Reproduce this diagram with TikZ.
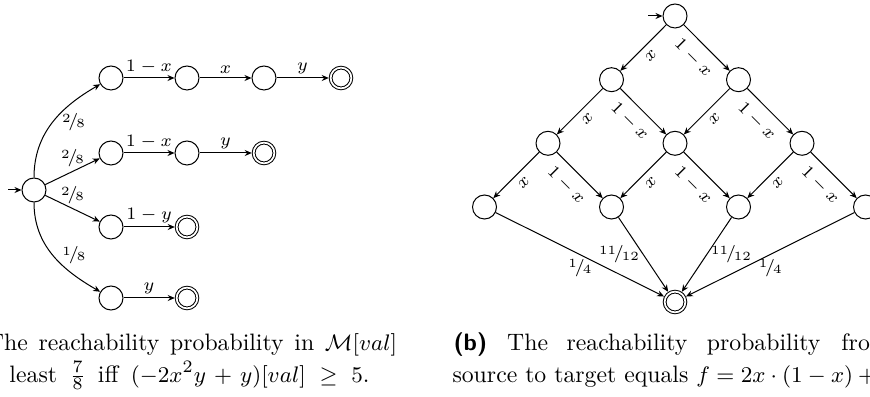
\documentclass[tikz,border=0pt]{standalone}
\usetikzlibrary{arrows.meta}
\newcommand{\nfr}[2]{\raisebox{.6ex}{\tiny #1}\kern-.12em/\kern-.12em\raisebox{-.15ex}{\tiny #2}}
\begin{document}
\begin{tikzpicture}[x=0.4pt,y=0.4pt,
  st/.style={circle,draw,line width=0.4pt,minimum size=9.6pt,inner sep=0pt},
  acc/.style={circle,draw,double,double distance=0.7pt,minimum size=8.3pt,inner sep=0pt,outer sep=0.75pt},
  tr/.style={-{Stealth[length=2.8pt,width=2.4pt]}},
  lab/.style={font=\scriptsize,inner sep=1.6pt},
  xlab/.style={lab,sloped,below=1pt},
  ylab/.style={lab,sloped,below=2.2pt,pos=0.46},
  captext/.style={inner sep=0pt,font=\fontsize{9.5}{11.4}\selectfont}]
\useasboundingbox (0,0) rectangle (870,-397);
\clip (0,0) rectangle (870,-397);
% ---------- left automaton ----------
\node[st] (s0) at (34,-190) {};
\node[st] (a1) at (111,-78) {};
\node[st] (a2) at (187,-78) {};
\node[st] (a3) at (264,-78) {};
\node[acc] (a4) at (341,-78) {};
\node[st] (b1) at (111,-153) {};
\node[st] (b2) at (187,-153) {};
\node[acc] (b3) at (264,-153) {};
\node[st] (c1) at (111,-227) {};
\node[acc] (c2) at (187,-227) {};
\node[st] (d1) at (111,-298) {};
\node[acc] (d2) at (187,-298) {};
\coordinate (i0) at (8,-190);
\draw[tr] (i0) -- (s0);
\draw[tr] (s0) to[out=90,in=210] node[lab,pos=0.5,anchor=west,xshift=2pt] {\nfr{2}{8}} (a1);
\draw[tr] (s0) -- node[lab,above] {\nfr{2}{8}} (b1);
\draw[tr] (s0) -- node[lab,above] {\nfr{2}{8}} (c1);
\draw[tr] (s0) to[out=-90,in=150] node[lab,pos=0.5,anchor=west,xshift=2pt] {\nfr{1}{8}} (d1);
\draw[tr] (a1) -- node[lab,above] {$1-x$} (a2);
\draw[tr] (a2) -- node[lab,above] {$x$} (a3);
\draw[tr] (a3) -- node[lab,above] {$y$} (a4);
\draw[tr] (b1) -- node[lab,above] {$1-x$} (b2);
\draw[tr] (b2) -- node[lab,above] {$y$} (b3);
\draw[tr] (c1) -- node[lab,above] {$1-y$} (c2);
\draw[tr] (d1) -- node[lab,above] {$y$} (d2);
% ---------- right lattice ----------
\node[st] (t0) at (675,-16) {};
\node[st] (u1) at (611.5,-79.7) {};
\node[st] (u2) at (738.5,-79.7) {};
\node[st] (v1) at (548,-143.3) {};
\node[st] (v2) at (675,-143.3) {};
\node[st] (v3) at (802,-143.3) {};
\node[st] (w1) at (484.5,-207) {};
\node[st] (w2) at (611.5,-207) {};
\node[st] (w3) at (738.5,-207) {};
\node[st] (w4) at (865.5,-207) {};
\node[acc] (tg) at (675,-302) {};
\coordinate (i1) at (648,-16);
\draw[tr] (i1) -- (t0);
\foreach \p/\l/\r in {t0/u1/u2, u1/v1/v2, u2/v2/v3, v1/w1/w2, v2/w2/w3, v3/w3/w4}{
  \draw[tr] (\p) -- node[xlab] {$x$} (\l);
  \draw[tr] (\p) -- node[ylab] {$1-x$} (\r);
}
\draw[tr] (w1) -- node[lab,below] {\nfr{1}{4}} (tg);
\draw[tr] (w2) -- node[lab,left] {\nfr{11}{12}} (tg);
\draw[tr] (w3) -- node[lab,right] {\nfr{11}{12}} (tg);
\draw[tr] (w4) -- node[lab,below] {\nfr{1}{4}} (tg);
% ---------- captions ----------
\node[captext,anchor=base] (ca1) at (192,-350) {\makebox[164pt][s]{The reachability probability in $\mathcal{M}[val]$}};
\node[captext,anchor=base] (ca2) at (189.5,-382) {\makebox[144pt][s]{least $\frac{7}{8}$ iff $(-2x^2y+y)[val]\geq 5$.}};
\node[captext,anchor=base west] (cb1) at (453,-350) {\textsf{\textbf{(b)}}\hspace{8pt}The\hspace{7.4pt}reachability\hspace{7.8pt}probability\hspace{8.4pt}from};
\node[captext,anchor=base west] (cb2) at (452,-382) {source to target equals $f = 2x\cdot(1-x)+{}$};
\end{tikzpicture}
\end{document}
